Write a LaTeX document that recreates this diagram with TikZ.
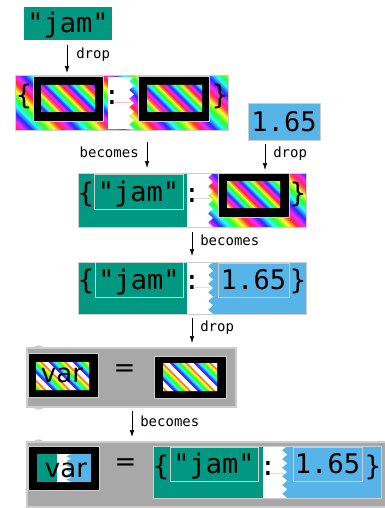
\documentclass[tikz,border=0pt]{standalone}
\usepackage{fontspec}
\setmainfont{DejaVu Sans}
\setmonofont{DejaVu Sans Mono}
\usepackage{xcolor}
\usepackage{tikz}
\usetikzlibrary{arrows.meta,positioning,calc}

\definecolor{jamteal}{HTML}{009880}
\definecolor{numblue}{HTML}{56B4E9}
\definecolor{blockgray}{HTML}{A8A8A8}
\definecolor{edgegray}{HTML}{CDCDCD}

% diagonal rainbow stripes: x1 y1 x2 y2 period whitepart
\newcommand{\rainbowbox}[6]{%
  \begin{scope}
    \clip (#1,#2) rectangle (#3,#4);
    \pgfmathsetmacro{\rbstart}{#1-#4}
    \pgfmathsetmacro{\rbnext}{\rbstart+1.5}
    \pgfmathsetmacro{\rbend}{#3-#2}
    \foreach \c in {\rbstart,\rbnext,...,\rbend}{
      \pgfmathsetmacro{\hfrac}{mod(\c+2000,#5)/#5}
      \pgfmathsetmacro{\hue}{1-\hfrac}
      \pgfmathsetmacro{\sat}{\hfrac<#6 ? 0 : 0.85}
      \definecolor{rb}{hsb}{\hue,\sat,1}
      \fill[rb] (\c+#2,#2) -- (\c+#2+2.2,#2) -- (\c+#4+2.2,#4) -- (\c+#4,#4) -- cycle;
    }
  \end{scope}}

% white gap with a torn right edge: xa ya xb yb
\newcommand{\zigwhite}[4]{%
  \pgfmathsetmacro{\zh}{(#4-#2)/6}
  \fill[white] (#1,#2) -- (#3,#2)
    \foreach \i in {1,...,6}{ -- (#3-5,#2+\i*\zh-\zh/2) -- (#3,#2+\i*\zh)}
    -- (#1,#4) -- cycle;}

\tikzset{
  flow/.style={-{Latex[length=7pt,width=4.5pt]}, semithick},
  lbl/.style={font=\fontsize{14}{16}\ttfamily, inner sep=0pt},
  code/.style={font=\fontsize{27}{30}\ttfamily, inner sep=0pt, text height=23pt, text depth=4pt},
  sanstxt/.style={font=\fontsize{26}{30}\selectfont, inner sep=0pt},
  slot/.style={fill=black, draw=edgegray, line width=1pt},
  keybox/.style={draw=edgegray, line width=1pt},
  block/.style={fill=blockgray, draw=edgegray, line width=1.2pt},
}

\begin{document}
\begin{tikzpicture}[x=1pt,y=-1pt]
  \useasboundingbox (0,0) rectangle (385,508);

  % Value "jam"
  \node[code, fill=jamteal, minimum width=88pt, minimum height=33pt] (jam) at (68,23.5) {"jam"};

  % Empty dict
  \rainbowbox{15}{76}{228}{130}{46}{0}
  \draw[edgegray, line width=1pt] (15,76) rectangle (228,130);
  \zigwhite{108}{77}{134}{129}
  \draw[red!25, thin] (114,102) -- (131,102);
  \draw[slot] (33,77) rectangle (103,121);
  \rainbowbox{41}{85}{95}{112}{25}{0}
  \draw[slot] (138,77) rectangle (209,121);
  \rainbowbox{147}{85}{202}{112}{25}{0}
  \node[code] (openA) at (24,95.5) {\{};
  \node[code] (colA) at (112,95.5) {:};
  \node[code] (closeA) at (220,95.5) {\}};

  % Value 1.65
  \node[code, fill=numblue, keybox, minimum width=72pt, minimum height=36pt] (num) at (284,122) {1.65};

  % Dict with key
  \fill[jamteal] (78,173) rectangle (187,227);
  \rainbowbox{187}{173}{306}{227}{46}{0}
  \zigwhite{187}{173}{213}{227}
  \draw[edgegray, line width=1pt] (78,173) rectangle (306,227);
  \draw[black!15, thin] (194,198) -- (210,198);
  \node[code, keybox, fill=jamteal, minimum width=89pt, minimum height=35pt] (keyB) at (138.5,191.5) {"jam"};
  \draw[slot] (218,173) rectangle (289,217);
  \rainbowbox{227}{181}{280}{208}{25}{0}
  \node[code] (openB) at (86,192.5) {\{};
  \node[code] (colB) at (192,192.5) {:};
  \node[code] (closeB) at (298,192.5) {\}};

  % Full dict
  \fill[jamteal] (78,262) rectangle (187,314);
  \fill[numblue] (187,262) rectangle (306,314);
  \zigwhite{187}{262}{213}{314}
  \draw[edgegray, line width=1pt] (78,262) rectangle (306,314);
  \draw[cyan!25, thin] (194,287) -- (210,287);
  \node[code, keybox, fill=jamteal, minimum width=88pt, minimum height=35pt] (keyC) at (139,279.5) {"jam"};
  \node[code, keybox, fill=numblue, minimum width=71pt, minimum height=34pt] (valC) at (253.5,280) {1.65};
  \node[code] (openC) at (86,279.5) {\{};
  \node[code] (colC) at (192,279.5) {:};
  \node[code] (closeC) at (298,279.5) {\}};

  % Assignment, empty
  \fill[edgegray] (33,349) .. controls (34,344) and (43,344) .. (44,349) -- cycle;
  \fill[edgegray] (33,406) .. controls (34,411) and (43,411) .. (44,406) -- cycle;
  \draw[block] (27,348) rectangle (236,407);
  \draw[slot] (28,353) rectangle (98,397);
  \rainbowbox{36}{362}{89}{390}{24}{0.22}
  \node[sanstxt, anchor=base] (varA) at (62,382) {var};
  \node[sanstxt] (eqA) at (124.5,371) {=};
  \draw[slot] (154,356) rectangle (226,398);
  \rainbowbox{163}{363}{217}{391}{24}{0.22}

  % Assignment, filled
  \fill[edgegray] (33,443) .. controls (34,438) and (43,438) .. (44,443) -- cycle;
  \draw[block] (27,442) rectangle (390,507);
  \fill[edgegray] (33,506) .. controls (34,511) and (43,511) .. (44,506) -- cycle;
  \draw[slot] (28,446) rectangle (99,490);
  \fill[numblue] (37,454) rectangle (91,482);
  \fill[jamteal] (37,454) rectangle (57,482);
  \zigwhite{57}{454}{71}{482}
  \node[sanstxt, anchor=base] (varB) at (66,477) {var};
  \node[sanstxt] (eqB) at (125.5,465) {=};
  \fill[jamteal] (153,446) rectangle (263,498);
  \fill[numblue] (263,446) rectangle (381,498);
  \zigwhite{263}{446}{287}{498}
  \draw[edgegray, line width=1pt] (153,446) rectangle (381,498);
  \draw[cyan!25, thin] (270,473) -- (284,473);
  \node[code, keybox, fill=jamteal, minimum width=88pt, minimum height=34pt] (keyD) at (214,464) {"jam"};
  \node[code, keybox, fill=numblue, minimum width=69pt, minimum height=34pt] (valD) at (327.5,464) {1.65};
  \node[code] (openD) at (161,465.5) {\{};
  \node[code] (colD) at (268,465.5) {:};
  \node[code] (closeD) at (373,465.5) {\}};

  % Arrows
  \coordinate (s1) at (67,45);   \coordinate (e1) at (67,73);
  \coordinate (s2) at (147,142); \coordinate (e2) at (147,168);
  \coordinate (s3) at (265,144); \coordinate (e3) at (265,170);
  \coordinate (s4) at (192,232); \coordinate (e4) at (192,256);
  \coordinate (s5) at (192,318); \coordinate (e5) at (192,343);
  \coordinate (s6) at (132,411); \coordinate (e6) at (132,437);
  \draw[flow] (s1) -- node[lbl, right=9pt, pos=0.36] {drop} (e1);
  \draw[flow] (s2) -- node[lbl, left=8pt, pos=0.38] {becomes} (e2);
  \draw[flow] (s3) -- node[lbl, right=8pt, pos=0.38] {drop} (e3);
  \draw[flow] (s4) -- node[lbl, right=8pt, pos=0.33] {becomes} (e4);
  \draw[flow] (s5) -- node[lbl, right=8pt, pos=0.4] {drop} (e5);
  \draw[flow] (s6) -- node[lbl, right=8pt, pos=0.38] {becomes} (e6);
\end{tikzpicture}
\end{document}
